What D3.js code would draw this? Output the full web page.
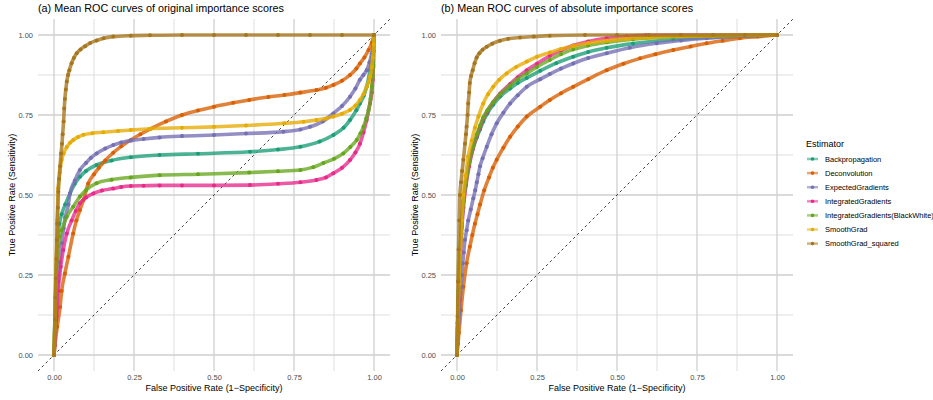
<!DOCTYPE html>
<html>
<head>
<meta charset="utf-8">
<script src="https://cdn.jsdelivr.net/npm/d3@7"></script>
<style>
  html, body { margin: 0; padding: 0; background: #fff; }
  svg { display: block; font-family: "Liberation Sans", Arial, sans-serif; }
</style>
</head>
<body>
<svg id="chart" width="933" height="400"></svg>
<script>
const estimators = ["Backpropagation", "Deconvolution", "ExpectedGradients", "IntegratedGradients",
  "IntegratedGradients(BlackWhite)", "SmoothGrad", "SmoothGrad_squared"];
const colors = ["#1B9E77", "#D95F02", "#7570B3", "#E7298A", "#66A61E", "#E6AB02", "#A6761D"];
const tickValues = [0, 0.25, 0.5, 0.75, 1];
const tickLabels = ["0.00", "0.25", "0.50", "0.75", "1.00"];
const panelTitles = ["(a) Mean ROC curves of original importance scores", "(b) Mean ROC curves of absolute importance scores"];

// Panel (a): [FPR, TPR]
const orig_Backpropagation = [[0,0],[0.003,0.12],[0.006,0.25],[0.01,0.35],[0.017,0.41],[0.024,0.44],[0.035,0.47],[0.05,0.505],[0.065,0.535],[0.081,0.557],[0.1,0.575],[0.133,0.594],[0.18,0.608],[0.24,0.618],[0.33,0.625],[0.45,0.629],[0.6125,0.635],[0.7,0.642],[0.77,0.651],[0.83,0.667],[0.873,0.6875],[0.905,0.71],[0.925,0.734],[0.945,0.765],[0.956,0.786],[0.968,0.81],[0.977,0.838],[0.9875,0.89],[0.994,0.93],[0.998,0.963],[1,1]];
const orig_Deconvolution = [[0,0],[0.003,0.03],[0.01,0.088],[0.019,0.15],[0.024,0.2],[0.034,0.255],[0.045,0.307],[0.06,0.38],[0.07,0.42],[0.081,0.453],[0.092,0.484],[0.107,0.536],[0.125,0.565],[0.14,0.585],[0.16,0.608],[0.185,0.632],[0.21,0.652],[0.24,0.672],[0.27,0.69],[0.3,0.706],[0.35,0.73],[0.4,0.75],[0.45,0.764],[0.5,0.776],[0.56,0.788],[0.61,0.797],[0.67,0.806],[0.72,0.8125],[0.77,0.82],[0.82,0.828],[0.85,0.835],[0.873,0.844],[0.9,0.857],[0.925,0.875],[0.945,0.895],[0.956,0.911],[0.97,0.93],[0.983,0.953],[0.993,0.975],[1,1]];
const orig_ExpectedGradients = [[0,0],[0.006,0.11],[0.013,0.23],[0.018,0.29],[0.024,0.35],[0.03,0.395],[0.035,0.43],[0.045,0.47],[0.05,0.505],[0.065,0.545],[0.081,0.578],[0.1,0.6],[0.115,0.616],[0.133,0.63],[0.16,0.645],[0.185,0.656],[0.21,0.664],[0.24,0.67],[0.28,0.675],[0.33,0.68],[0.4,0.684],[0.5,0.6875],[0.6,0.692],[0.717,0.698],[0.77,0.705],[0.8,0.713],[0.84,0.73],[0.873,0.755],[0.9,0.778],[0.925,0.807],[0.942,0.833],[0.956,0.86],[0.967,0.875],[0.977,0.89],[0.986,0.915],[0.993,0.943],[0.998,0.97],[1,1]];
const orig_IntegratedGradients = [[0,0],[0.003,0.05],[0.008,0.12],[0.013,0.2],[0.021,0.276],[0.029,0.328],[0.04,0.38],[0.055,0.42],[0.068,0.45],[0.081,0.474],[0.1,0.492],[0.123,0.505],[0.15,0.514],[0.185,0.52],[0.21,0.525],[0.24,0.528],[0.28,0.529],[0.33,0.53],[0.4,0.53],[0.5,0.53],[0.6125,0.531],[0.7,0.535],[0.77,0.54],[0.82,0.547],[0.85,0.555],[0.873,0.568],[0.9,0.585],[0.925,0.609],[0.942,0.633],[0.956,0.66],[0.967,0.695],[0.977,0.734],[0.9875,0.786],[0.993,0.82],[0.996,0.86],[0.998,0.9],[0.999,0.95],[1,1]];
const orig_IntegratedGradientsBW = [[0,0],[0.003,0.11],[0.006,0.23],[0.013,0.34],[0.018,0.37],[0.024,0.39],[0.04,0.432],[0.06,0.463],[0.081,0.495],[0.1,0.515],[0.133,0.537],[0.18,0.548],[0.24,0.555],[0.33,0.562],[0.45,0.565],[0.61,0.57],[0.7,0.574],[0.77,0.578],[0.81,0.587],[0.842,0.6],[0.875,0.613],[0.904,0.63],[0.926,0.65],[0.946,0.672],[0.958,0.693],[0.967,0.713],[0.976,0.74],[0.983,0.766],[0.989,0.8],[0.993,0.838],[0.996,0.87],[0.998,0.906],[1,1]];
const orig_SmoothGrad = [[0,0],[0.004,0.15],[0.007,0.3],[0.01,0.42],[0.013,0.52],[0.018,0.57],[0.024,0.61],[0.03,0.63],[0.04,0.65],[0.05,0.663],[0.06,0.672],[0.075,0.681],[0.092,0.688],[0.12,0.693],[0.154,0.696],[0.2,0.7],[0.24,0.703],[0.3,0.707],[0.4,0.71],[0.5,0.713],[0.6,0.717],[0.72,0.724],[0.78,0.729],[0.82,0.734],[0.85,0.739],[0.873,0.745],[0.9,0.754],[0.925,0.766],[0.942,0.78],[0.956,0.797],[0.967,0.815],[0.977,0.838],[0.983,0.853],[0.988,0.87],[0.993,0.9],[0.996,0.93],[0.999,0.97],[1,1]];
const orig_SmoothGradSquared = [[0,0],[0.003,0.11],[0.005,0.18],[0.006,0.24],[0.008,0.3],[0.009,0.36],[0.01,0.41],[0.012,0.46],[0.0135,0.51],[0.016,0.55],[0.019,0.59],[0.022,0.63],[0.025,0.66],[0.027,0.69],[0.03,0.73],[0.032,0.77],[0.034,0.8],[0.037,0.83],[0.04,0.855],[0.044,0.875],[0.048,0.89],[0.055,0.912],[0.062,0.928],[0.071,0.943],[0.083,0.955],[0.097,0.965],[0.113,0.975],[0.133,0.983],[0.155,0.99],[0.185,0.995],[0.24,0.998],[0.3,0.999],[0.4,1],[0.5,1],[0.6,1],[0.7,1],[0.8,1],[0.9,1],[1,1]];

// Panel (b): [FPR, TPR]
const abs_Backpropagation = [[0,0],[0.002,0.1],[0.005,0.2],[0.009,0.31],[0.014,0.4],[0.02,0.48],[0.028,0.54],[0.038,0.6],[0.05,0.645],[0.062,0.68],[0.072,0.705],[0.082,0.73],[0.095,0.755],[0.113,0.782],[0.135,0.808],[0.166,0.833],[0.19,0.85],[0.218,0.866],[0.26,0.888],[0.31,0.912],[0.363,0.932],[0.41,0.947],[0.468,0.96],[0.55,0.973],[0.676,0.986],[0.78,0.992],[0.884,0.996],[1,1]];
const abs_Deconvolution = [[0,0],[0.003,0.035],[0.006,0.07],[0.0125,0.14],[0.02,0.213],[0.03,0.287],[0.04,0.338],[0.048,0.375],[0.056,0.41],[0.064,0.44],[0.072,0.47],[0.085,0.515],[0.1,0.555],[0.112,0.585],[0.124,0.61],[0.145,0.648],[0.166,0.682],[0.19,0.714],[0.218,0.745],[0.26,0.776],[0.29,0.797],[0.325,0.818],[0.363,0.838],[0.41,0.862],[0.468,0.89],[0.52,0.91],[0.572,0.927],[0.62,0.94],[0.676,0.953],[0.73,0.964],[0.78,0.974],[0.83,0.982],[0.884,0.99],[0.94,0.995],[1,1]];
const abs_ExpectedGradients = [[0,0],[0.002,0.05],[0.005,0.1],[0.007,0.13],[0.01,0.175],[0.0125,0.213],[0.015,0.25],[0.018,0.287],[0.021,0.32],[0.025,0.36],[0.03,0.39],[0.035,0.42],[0.043,0.455],[0.051,0.49],[0.057,0.515],[0.062,0.54],[0.067,0.565],[0.072,0.59],[0.08,0.615],[0.093,0.651],[0.108,0.69],[0.124,0.724],[0.145,0.757],[0.166,0.786],[0.19,0.812],[0.218,0.838],[0.26,0.862],[0.29,0.878],[0.325,0.895],[0.363,0.911],[0.41,0.928],[0.468,0.943],[0.54,0.96],[0.624,0.974],[0.7,0.983],[0.78,0.99],[0.9,0.997],[1,1]];
const abs_IntegratedGradients = [[0,0],[0.002,0.08],[0.005,0.17],[0.009,0.28],[0.014,0.38],[0.02,0.46],[0.028,0.53],[0.038,0.59],[0.05,0.645],[0.062,0.685],[0.072,0.712],[0.082,0.738],[0.095,0.762],[0.113,0.79],[0.135,0.817],[0.166,0.847],[0.19,0.868],[0.218,0.89],[0.25,0.91],[0.29,0.935],[0.325,0.952],[0.363,0.967],[0.41,0.98],[0.468,0.99],[0.53,0.996],[0.59,0.999],[0.7,1],[1,1]];
const abs_IntegratedGradientsBW = [[0,0],[0.002,0.1],[0.005,0.2],[0.009,0.31],[0.014,0.4],[0.02,0.48],[0.028,0.54],[0.038,0.6],[0.05,0.65],[0.062,0.69],[0.072,0.717],[0.082,0.742],[0.095,0.765],[0.113,0.79],[0.135,0.815],[0.166,0.842],[0.19,0.862],[0.218,0.88],[0.25,0.9],[0.29,0.922],[0.325,0.94],[0.363,0.955],[0.41,0.967],[0.468,0.977],[0.55,0.987],[0.676,0.995],[0.8,0.998],[1,1]];
const abs_SmoothGrad = [[0,0],[0.003,0.12],[0.006,0.22],[0.01,0.32],[0.015,0.42],[0.02,0.5],[0.027,0.56],[0.035,0.62],[0.046,0.67],[0.056,0.71],[0.067,0.745],[0.082,0.786],[0.097,0.815],[0.113,0.838],[0.132,0.86],[0.155,0.88],[0.185,0.9],[0.218,0.917],[0.25,0.932],[0.29,0.945],[0.325,0.956],[0.363,0.966],[0.41,0.975],[0.468,0.982],[0.53,0.988],[0.6,0.992],[0.7,0.996],[0.8,0.998],[0.9,0.999],[1,1]];
const abs_SmoothGradSquared = [[0,0],[0.002,0.12],[0.003,0.23],[0.005,0.33],[0.007,0.42],[0.009,0.5],[0.0125,0.54],[0.016,0.575],[0.02,0.61],[0.025,0.66],[0.028,0.69],[0.03,0.713],[0.033,0.75],[0.035,0.786],[0.038,0.82],[0.04,0.85],[0.044,0.872],[0.049,0.89],[0.055,0.912],[0.0615,0.93],[0.07,0.943],[0.08,0.954],[0.093,0.963],[0.11,0.973],[0.134,0.982],[0.16,0.988],[0.197,0.992],[0.24,0.995],[0.29,0.998],[0.4,1],[0.5,1],[0.6,1],[0.7,1],[0.8,1],[0.9,1],[1,1]];

const origSeries = [orig_Backpropagation, orig_Deconvolution, orig_ExpectedGradients, orig_IntegratedGradients, orig_IntegratedGradientsBW, orig_SmoothGrad, orig_SmoothGradSquared];
const absSeries = [abs_Backpropagation, abs_Deconvolution, abs_ExpectedGradients, abs_IntegratedGradients, abs_IntegratedGradientsBW, abs_SmoothGrad, abs_SmoothGradSquared];

const svg = d3.select("#chart");

const panels = [
  { left: 38, right: 390, top: 19, bottom: 371, series: origSeries, title: panelTitles[0] },
  { left: 441, right: 793, top: 19, bottom: 371, series: absSeries, title: panelTitles[1] }
];

panels.forEach(p => {
  const x = d3.scaleLinear().domain([-0.05, 1.05]).range([p.left, p.right]);
  const y = d3.scaleLinear().domain([-0.05, 1.05]).range([p.bottom, p.top]);
  const g = svg.append("g");

  const minor = [0.125, 0.375, 0.625, 0.875];
  g.selectAll(".vminor").data(minor).join("line")
    .attr("x1", d => x(d)).attr("x2", d => x(d)).attr("y1", p.top).attr("y2", p.bottom)
    .attr("stroke", "#d6d6d6").attr("stroke-width", 0.8);
  g.selectAll(".hminor").data(minor).join("line")
    .attr("y1", d => y(d)).attr("y2", d => y(d)).attr("x1", p.left).attr("x2", p.right)
    .attr("stroke", "#d6d6d6").attr("stroke-width", 0.8);
  g.selectAll(".vmajor").data(tickValues).join("line")
    .attr("x1", d => x(d)).attr("x2", d => x(d)).attr("y1", p.top).attr("y2", p.bottom)
    .attr("stroke", "#cfcfcf").attr("stroke-width", 1.3);
  g.selectAll(".hmajor").data(tickValues).join("line")
    .attr("y1", d => y(d)).attr("y2", d => y(d)).attr("x1", p.left).attr("x2", p.right)
    .attr("stroke", "#cfcfcf").attr("stroke-width", 1.3);

  const xAxis = d3.axisBottom(x).tickValues(tickValues).tickFormat((d, i) => tickLabels[i]).tickSize(0).tickPadding(4);
  const gx = g.append("g").attr("transform", `translate(0,${p.bottom})`).call(xAxis);
  gx.select(".domain").remove();
  gx.selectAll("text").attr("font-size", 7.5).attr("fill", "#4d4d4d").attr("font-family", "Liberation Sans, Arial, sans-serif");

  const yAxis = d3.axisLeft(y).tickValues(tickValues).tickFormat((d, i) => tickLabels[i]).tickSize(0).tickPadding(5);
  const gy = g.append("g").attr("transform", `translate(${p.left},0)`).call(yAxis);
  gy.select(".domain").remove();
  gy.selectAll("text").attr("font-size", 7.5).attr("fill", "#4d4d4d").attr("font-family", "Liberation Sans, Arial, sans-serif");

  g.append("text").attr("x", p.left).attr("y", 12).attr("font-size", 10.8).attr("fill", "#000").text(p.title);
  g.append("text").attr("x", (x(0) + x(1)) / 2).attr("y", 391).attr("text-anchor", "middle")
    .attr("font-size", 9).attr("fill", "#000").text("False Positive Rate (1\u2212Specificity)");
  g.append("text").attr("transform", `translate(${p.left - 23},${(y(0) + y(1)) / 2}) rotate(-90)`)
    .attr("text-anchor", "middle").attr("font-size", 9).attr("fill", "#000").text("True Positive Rate (Sensitivity)");

  g.append("line").attr("x1", x(-0.05)).attr("y1", y(-0.05)).attr("x2", x(1.05)).attr("y2", y(1.05))
    .attr("stroke", "#222").attr("stroke-width", 0.9).attr("stroke-dasharray", "2.5,3");

  const line = d3.line().x(d => x(d[0])).y(d => y(d[1])).curve(d3.curveMonotoneX);

  p.series.forEach((s, i) => {
    const c = colors[i];
    g.append("path").datum(s).attr("d", line).attr("fill", "none")
      .attr("stroke", c).attr("stroke-width", 3.6).attr("stroke-opacity", 0.78).attr("stroke-linecap", "round");
    g.append("g").selectAll("circle").data(s).join("circle")
      .attr("cx", d => x(d[0])).attr("cy", d => y(d[1])).attr("r", 2).attr("fill", c);
  });
});

const lg = svg.append("g").attr("transform", "translate(806,0)");
lg.append("text").attr("x", 0).attr("y", 147).attr("font-size", 9).attr("fill", "#000").text("Estimator");
estimators.forEach((e, i) => {
  const cy = 159 + i * 14.1;
  lg.append("line").attr("x1", 1).attr("x2", 12).attr("y1", cy).attr("y2", cy)
    .attr("stroke", colors[i]).attr("stroke-width", 2.5).attr("stroke-opacity", 0.55);
  lg.append("circle").attr("cx", 6.5).attr("cy", cy).attr("r", 1.8).attr("fill", colors[i]);
  lg.append("text").attr("x", 19).attr("y", cy + 2.7).attr("font-size", 7.5).attr("fill", "#000").text(e);
});
</script>
</body>
</html>
